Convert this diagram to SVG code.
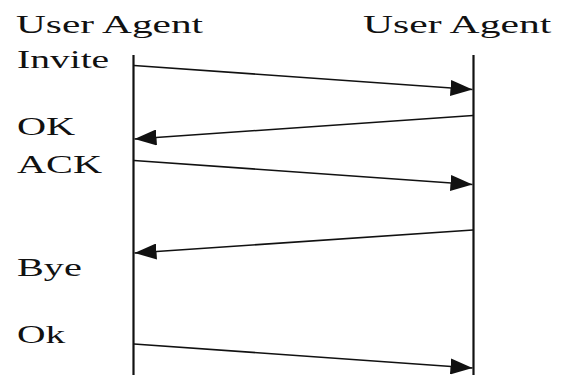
<svg xmlns="http://www.w3.org/2000/svg" width="566" height="375" viewBox="0 0 566 375">
  <style>
    .life { stroke: #111; stroke-width: 2.2; fill: none; }
    .msg { stroke: #111; stroke-width: 1.6; fill: none; marker-end: url(#head); }
  </style>
  <defs>
    <marker id="head" viewBox="0 0 22 16" refX="22" refY="8" markerWidth="22" markerHeight="16" markerUnits="userSpaceOnUse" orient="auto">
      <path d="M0,0 L22,8 L0,16 Z" fill="#111"/>
    </marker>
  </defs>

  <rect width="566" height="375" fill="#fff"/>

  <!-- participants -->
  <g id="agent-a">
    <text transform="translate(16,33) scale(1.59,1)" font-family="Liberation Serif" font-size="26" fill="#111">User Agent</text>
    <line class="life" x1="133.5" y1="55" x2="133.5" y2="375"/>
  </g>
  <g id="agent-b">
    <text transform="translate(363,33) scale(1.6,1)" font-family="Liberation Serif" font-size="26" fill="#111">User Agent</text>
    <line class="life" x1="473.5" y1="55" x2="473.5" y2="375"/>
  </g>

  <!-- message labels, widened horizontally -->
  <g id="label-invite"><text transform="translate(17,68) scale(1.52,1)" font-family="Liberation Serif" font-size="26" fill="#111">Invite</text></g>
  <g id="label-ok"><text transform="translate(17,135) scale(1.55,1)" font-family="Liberation Serif" font-size="26" fill="#111">OK</text></g>
  <g id="label-ack"><text transform="translate(17,173) scale(1.55,1)" font-family="Liberation Serif" font-size="26" fill="#111">ACK</text></g>
  <g id="label-bye"><text transform="translate(17,276) scale(1.55,1)" font-family="Liberation Serif" font-size="26" fill="#111">Bye</text></g>
  <g id="label-ok2"><text transform="translate(17,343) scale(1.52,1)" font-family="Liberation Serif" font-size="26" fill="#111">Ok</text></g>

  <!-- messages -->
  <g id="connectors">
    <line class="msg" x1="134" y1="65.5" x2="472.5" y2="89.5"/>
    <line class="msg" x1="473" y1="115.5" x2="134.5" y2="139"/>
    <line class="msg" x1="134" y1="160.5" x2="472.5" y2="184.5"/>
    <line class="msg" x1="473" y1="230" x2="134.5" y2="253"/>
    <line class="msg" x1="134" y1="344" x2="472.5" y2="368"/>
  </g>
</svg>
